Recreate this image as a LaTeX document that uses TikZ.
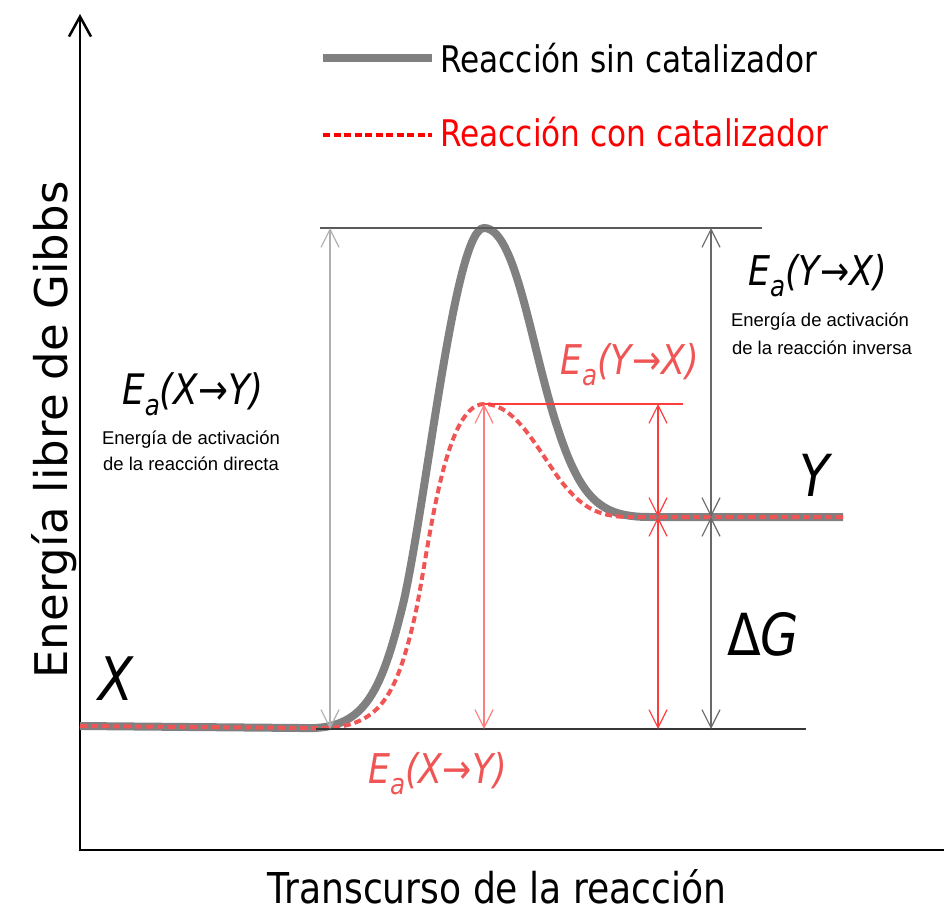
\documentclass[tikz,border=0pt]{standalone}
\usepackage{fontspec}
\setmainfont{DejaVu Sans}[FakeStretch=0.85]
\newfontfamily\smallfont{Liberation Sans}
\newfontfamily\widefont{DejaVu Sans}
\usetikzlibrary{arrows.meta}
\definecolor{curvegray}{RGB}{128,128,128}
\definecolor{dashred}{RGB}{240,85,85}
\definecolor{legred}{RGB}{255,0,0}
\definecolor{arrred}{RGB}{255,60,60}
\definecolor{arrredlight}{RGB}{255,125,125}
\definecolor{arrgraylight}{RGB}{175,175,175}
\definecolor{arrgraydark}{RGB}{105,105,105}
\definecolor{topgray}{RGB}{90,90,90}
\definecolor{botgray}{RGB}{55,55,55}
\newcommand\fsz[1]{\fontsize{#1}{#1}\selectfont}
\newcommand\Ea[1]{\itshape E\raisebox{-11pt}{\fsz{29}a}(#1)}
\tikzset{
  lbl/.style={inner sep=0pt, anchor=base west},
  lblc/.style={inner sep=0pt, anchor=base},
  dimline/.style={line width=1.2pt, {Straight Barb[length=18pt,width=18pt]}-{Straight Barb[length=18pt,width=18pt]}},
  axisline/.style={line width=2.5pt, black},
  refline/.style={line width=1.5pt}
}
\begin{document}
\begin{tikzpicture}[x=1pt,y=-1pt]
\useasboundingbox (0,0) rectangle (944,917);
% axes
\coordinate (ybot) at (80,851.25);
\coordinate (ytip) at (80,14);
\coordinate (xstart) at (78.75,850);
\coordinate (xend) at (944,850);
\draw[axisline, -{Straight Barb[length=20pt,width=22pt]}] (ybot) -- (ytip);
\draw[axisline] (xstart) -- (xend);
% curves
\draw[curvegray, line width=8pt] (80,726) -- (300,728) .. controls (362,731) and (380,700) .. (404,600) .. controls (428,490) and (455,228) .. (484,228) .. controls (515,228) and (530,340) .. (555,420) .. controls (580,500) and (600,517) .. (650,517) -- (843,517);
\draw[dashred, line width=4pt, dash pattern=on 7pt off 4pt] (80,726) -- (310,728) .. controls (378,731) and (395,700) .. (414,620) .. controls (428,560) and (442,404) .. (484,404) .. controls (515,404) and (535,445) .. (560,480) .. controls (580,505) and (595,517) .. (630,517) -- (843,517);
% reference lines
\coordinate (topL) at (320,228);
\coordinate (topR) at (762,228);
\coordinate (botL) at (316,729);
\coordinate (botR) at (806,729);
\coordinate (redL) at (484,404);
\coordinate (redR) at (683,404);
\draw[refline, topgray] (topL) -- (topR);
\draw[refline, botgray] (botL) -- (botR);
\draw[refline, arrred] (redL) -- (redR);
% dimension arrows
\coordinate (a1t) at (330,228);
\coordinate (a1b) at (330,729);
\coordinate (a2t) at (484,404);
\coordinate (a2b) at (484,729);
\coordinate (a3t) at (658,404);
\coordinate (a3m) at (658,517);
\coordinate (a3b) at (658,729);
\coordinate (a4t) at (711,228);
\coordinate (a4m) at (711,517);
\coordinate (a4b) at (711,729);
\draw[dimline, arrgraylight] (a1t) -- (a1b);
\draw[dimline, arrredlight] (a2t) -- (a2b);
\draw[dimline, arrred] (a3t) -- (a3m);
\draw[dimline, arrred] (a3m) -- (a3b);
\draw[dimline, arrgraydark] (a4t) -- (a4m);
\draw[dimline, arrgraydark] (a4m) -- (a4b);
% legend
\coordinate (l1a) at (323,58);
\coordinate (l1b) at (432,58);
\coordinate (l2a) at (323,135);
\coordinate (l2b) at (432,135);
\draw[curvegray, line width=8pt] (l1a) -- (l1b);
\draw[legred, line width=4pt, dash pattern=on 7pt off 3.5pt] (l2a) -- (l2b);
\node[lbl] (leg1) at (440,73) {\fsz{36.7}Reacción sin catalizador};
\node[lbl, text=legred] (leg2) at (440,147) {\fsz{36.7}Reacción con catalizador};
% axis labels
\node[lblc] (xlab) at (497,903) {\fsz{42.5}Transcurso de la reacción};
\node[lblc, rotate=90] (ylab) at (67,430) {\widefont\fsz{45}Energía libre de Gibbs};
% activation labels
\node[lbl] (eaR) at (748,285) {\fsz{41}\Ea{Y→X}};
\node[lblc] (eaRt1) at (820,326) {\smallfont\fsz{18.5}Energía de activación};
\node[lblc] (eaRt2) at (822,354) {\smallfont\fsz{18.5}de la reacción inversa};
\node[lbl, text=dashred] (eaRc) at (560,374) {\fsz{41}\Ea{Y→X}};
\node[lbl] (eaL) at (122,404) {\fsz{42}\Ea{X→Y}};
\node[lblc] (eaLt1) at (191,444) {\smallfont\fsz{18.5}Energía de activación};
\node[lblc] (eaLt2) at (191,470) {\smallfont\fsz{18.5}de la reacción directa};
\node[lbl, text=dashred] (eaLc) at (368,783) {\fsz{41}\Ea{X→Y}};
% states
\node[lbl] (X) at (98,700) {\fsz{60}\itshape X};
\node[lbl] (Y) at (799,496) {\fsz{58}\itshape Y};
\node[lbl] (dG) at (727,655) {\fsz{58}Δ\itshape G};
\end{tikzpicture}
\end{document}
